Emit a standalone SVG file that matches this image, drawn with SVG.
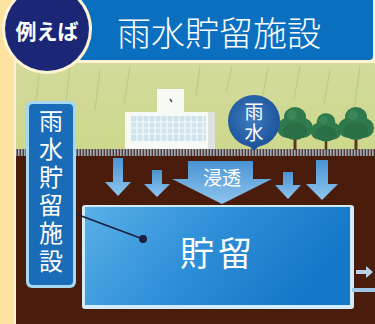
<svg xmlns="http://www.w3.org/2000/svg" width="375" height="324" viewBox="0 0 375 324">
  <defs>
    <linearGradient id="sky" x1="0" y1="0" x2="0" y2="1">
      <stop offset="0" stop-color="#d3da9c"/>
      <stop offset="1" stop-color="#c2d46c"/>
    </linearGradient>
    <linearGradient id="tank" x1="0" y1="0" x2="1" y2="0.3">
      <stop offset="0" stop-color="#5ab0e6"/>
      <stop offset="0.5" stop-color="#2f8fd8"/>
      <stop offset="1" stop-color="#1577c8"/>
    </linearGradient>
    <linearGradient id="arrowFill" x1="0" y1="0" x2="0" y2="1">
      <stop offset="0" stop-color="#4a93d3"/>
      <stop offset="1" stop-color="#8ec6ee"/>
    </linearGradient>
    <radialGradient id="drop" cx="0.45" cy="0.45" r="0.6">
      <stop offset="0" stop-color="#3d7cc0"/>
      <stop offset="1" stop-color="#1b5299"/>
    </radialGradient>
    <pattern id="hatch" width="3" height="8" patternUnits="userSpaceOnUse">
      <rect width="3" height="8" fill="#5a3a2e"/>
      <rect width="1.6" height="8" fill="#9aa7b6"/>
    </pattern>
    <g id="tree">
      <rect x="-1.5" y="-2" width="3" height="16" fill="#5a3a1c"/>
      <ellipse cx="0" cy="-19" rx="11" ry="10" fill="#2f7a4c"/>
      <ellipse cx="-8" cy="-8" rx="10" ry="10" fill="#2f7a4c"/>
      <ellipse cx="8" cy="-8" rx="10" ry="10" fill="#2f7a4c"/>
      <ellipse cx="0" cy="-5" rx="12" ry="9" fill="#2a6f45"/>
      <circle cx="-3" cy="-21" r="5" fill="#3f8c5c" opacity="0.7"/>
    </g>
  </defs>
  <style>
    .jp { font-family: "Noto Sans CJK JP", "Noto Sans", sans-serif; fill: #ffffff; }
    .vert { writing-mode: vertical-rl; }
    .rain { stroke: #a9bb70; stroke-width: 1; opacity: 0.5; }
  </style>

  <!-- page background -->
  <rect width="375" height="324" fill="#fde2a0"/>

  <!-- scene frame -->
  <rect x="14" y="61" width="361" height="263" fill="#fdf3d3"/>
  <rect x="16" y="63" width="359" height="261" fill="url(#sky)"/>

  <!-- rain streaks -->
  <g class="rain">
    <line x1="40" y1="66" x2="36" y2="100"/>
    <line x1="70" y1="66" x2="64" y2="120"/>
    <line x1="100" y1="70" x2="95" y2="110"/>
    <line x1="130" y1="66" x2="124" y2="104"/>
    <line x1="200" y1="66" x2="196" y2="96"/>
    <line x1="232" y1="66" x2="226" y2="92"/>
    <line x1="268" y1="68" x2="262" y2="100"/>
    <line x1="300" y1="66" x2="294" y2="100"/>
    <line x1="330" y1="70" x2="324" y2="104"/>
    <line x1="360" y1="66" x2="354" y2="110"/>
  </g>

  <!-- ground -->
  <rect x="16" y="149" width="359" height="175" fill="#4a1c0c"/>
  <rect x="16" y="149" width="359" height="7" fill="url(#hatch)"/>

  <!-- building -->
  <g id="building">
    <rect x="157" y="89" width="27" height="24" fill="#f7f9f4"/>
    <path d="M170 99 l2 3" stroke="#555" stroke-width="1.5"/>
    <rect x="125" y="112" width="90" height="37" fill="#f7f9f4"/>
    <rect x="208" y="112" width="7" height="37" fill="#dfe3df"/>
    <rect x="131" y="116" width="75" height="25" fill="#cde3ee"/>
    <g stroke="#f7f9f4" stroke-width="1.2">
      <line x1="131" y1="122" x2="206" y2="122"/>
      <line x1="131" y1="128" x2="206" y2="128"/>
      <line x1="131" y1="134" x2="206" y2="134"/>
      <line x1="137" y1="116" x2="137" y2="141"/>
      <line x1="143" y1="116" x2="143" y2="141"/>
      <line x1="149" y1="116" x2="149" y2="141"/>
      <line x1="155" y1="116" x2="155" y2="141"/>
      <line x1="161" y1="116" x2="161" y2="141"/>
      <line x1="167" y1="116" x2="167" y2="141"/>
      <line x1="173" y1="116" x2="173" y2="141"/>
      <line x1="179" y1="116" x2="179" y2="141"/>
      <line x1="185" y1="116" x2="185" y2="141"/>
      <line x1="191" y1="116" x2="191" y2="141"/>
      <line x1="197" y1="116" x2="197" y2="141"/>
      <line x1="203" y1="116" x2="203" y2="141"/>
    </g>
  </g>

  <!-- trees -->
  <g id="trees">
    <use href="#tree" x="295" y="136"/>
    <g transform="translate(326 138) scale(0.85)"><use href="#tree"/></g>
    <use href="#tree" x="356" y="136"/>
  </g>

  <!-- rain drop marker -->
  <g id="rain-drop">
    <path d="M254 151 L247 144 L261 144 Z" fill="#1b5299"/>
    <circle cx="254" cy="121" r="26" fill="url(#drop)"/>
    <text class="jp vert" x="254" y="102" font-size="19" letter-spacing="2">雨水</text>
  </g>

  <!-- storage tank -->
  <g id="tank">
    <rect x="82" y="205" width="272" height="104" rx="3" fill="#d3ecf8"/>
    <rect x="85" y="207" width="265" height="98" fill="url(#tank)"/>
    <text class="jp" x="218" y="266" font-size="34" text-anchor="middle" letter-spacing="4">貯留</text>
  </g>

  <!-- outflow -->
  <g id="outflow">
    <path d="M356 270 h10 v-4 l7 6 l-7 6 v-4 h-10 Z" fill="#b8d4e6"/>
    <rect x="352" y="288" width="23" height="4" fill="#9cc7e6"/>
  </g>

  <!-- infiltration arrows -->
  <g id="connectors" fill="url(#arrowFill)">
    <path d="M113 158 h10 v24 h8 l-13 14 l-13 -14 h8 Z"/>
    <path d="M152 170 h10 v14 h8 l-13 13 l-13 -13 h8 Z"/>
    <path d="M283 172 h10 v13 h8 l-13 14 l-13 -14 h8 Z"/>
    <path d="M316 160 h12 v24 h10 l-16 16 l-16 -16 h10 Z"/>
    <path d="M188 161 h65 v18 h19 l-50 25 l-50 -25 h16 Z"/>
  </g>
  <text class="jp" x="222" y="185" font-size="19" text-anchor="middle">浸透</text>

  <!-- vertical label -->
  <g id="label">
    <rect x="26" y="101" width="50" height="187" rx="6" fill="#a6d8f2"/>
    <rect x="29" y="104" width="44" height="181" rx="4" fill="#1a6cb8"/>
    <text class="jp vert" x="51" y="109" font-size="24" letter-spacing="4">雨水貯留施設</text>
  </g>
  <g id="leader">
    <line x1="76" y1="214" x2="143" y2="239" stroke="#1a2040" stroke-width="1.8"/>
    <circle cx="143" cy="239" r="4" fill="#1a2040"/>
  </g>

  <!-- header -->
  <g id="header">
    <rect x="76" y="-4" width="299" height="67" rx="5" fill="#fdf3d3"/>
    <rect x="78" y="-4" width="295" height="64" rx="4" fill="#0b6fc0"/>
    <text class="jp" x="219" y="46" font-size="34" font-weight="300" text-anchor="middle">雨水貯留施設</text>
  </g>
  <g id="badge">
    <circle cx="47" cy="29" r="45" fill="#fdf3d3"/>
    <circle cx="47" cy="29" r="42" fill="#1b2677"/>
    <text class="jp" x="47" y="39" font-size="21" font-weight="700" text-anchor="middle">例えば</text>
  </g>
</svg>
